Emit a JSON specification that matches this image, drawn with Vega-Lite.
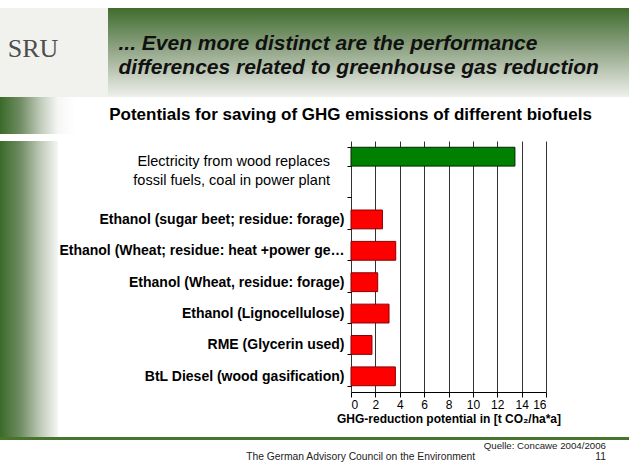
{
  "$schema": "https://vega.github.io/schema/vega-lite/v6.json",
  "padding": {"top": 8, "left": 0, "right": 0, "bottom": 0},
  "background": "white",
  "spacing": 0,
  "config": {"font": "Liberation Sans", "view": {"stroke": null}, "concat": {"spacing": 0}},
  "title": {
    "text": "Quelle: Concawe 2004/2006",
    "subtitle": "The German Advisory Council on the Environment\u00a0\u00a0\u00a0\u00a0\u00a0\u00a0\u00a0\u00a0\u00a0\u00a0\u00a0\u00a0\u00a0\u00a0\u00a0\u00a0\u00a0\u00a0\u00a0\u00a0\u00a0\u00a0\u00a0\u00a0\u00a0\u00a0\u00a0\u00a0\u00a0\u00a0\u00a0\u00a0\u00a0\u00a0\u00a0\u00a0\u00a0\u00a0\u00a0\u00a0\u00a0\u00a011",
    "orient": "bottom",
    "anchor": "end",
    "frame": "bounds",
    "fontSize": 9.7,
    "fontWeight": "normal",
    "color": "#222",
    "subtitleFontSize": 10.3,
    "subtitleColor": "#222",
    "offset": 1,
    "subtitlePadding": 1,
    "dx": -23
  },
  "vconcat": [
    {
      "spacing": 0,
      "hconcat": [
        {
          "width": 108,
          "height": 89,
          "view": {"fill": "#f1f2ee", "stroke": null},
          "data": {"values": [{"logo": "SRU"}]},
          "mark": {"type": "text", "font": "Liberation Serif", "fontSize": 26, "color": "#4d4d4d", "dx": -21, "dy": -4},
          "encoding": {"text": {"field": "logo"}}
        },
        {
          "width": 521,
          "height": 89,
          "data": {"values": [{"panel": "header"}]},
          "layer": [
            {
              "mark": {
                "type": "rect",
                "fill": {
                  "gradient": "linear",
                  "x1": 0, "y1": 0, "x2": 0, "y2": 1,
                  "stops": [
                    {"offset": 0, "color": "#3f6c2d"},
                    {"offset": 0.45, "color": "#8ea383"},
                    {"offset": 1, "color": "#eef0ec"}
                  ]
                }
              },
              "encoding": {}
            },
            {
              "mark": {
                "type": "text",
                "text": ["... Even more distinct are the performance", "differences related to greenhouse gas reduction"],
                "align": "left",
                "baseline": "middle",
                "dx": -250,
                "dy": -9,
                "fontSize": 21,
                "fontStyle": "italic",
                "fontWeight": "bold",
                "color": "#111111",
                "lineHeight": 24
              },
              "encoding": {}
            }
          ]
        }
      ]
    },
    {
      "width": 629,
      "height": 37,
      "data": {"values": [{"panel": "subtitle"}]},
      "layer": [
        {
          "mark": {
            "type": "rect",
            "fill": {
              "gradient": "linear",
              "x1": 0, "y1": 0, "x2": 1, "y2": 0,
              "stops": [
                {"offset": 0, "color": "#3a6a28"},
                {"offset": 0.032, "color": "#6f8c62"},
                {"offset": 0.064, "color": "#bfcab9"},
                {"offset": 0.092, "color": "#f6f7f5"},
                {"offset": 0.12, "color": "#ffffff"},
                {"offset": 1, "color": "#ffffff"}
              ]
            }
          },
          "encoding": {}
        },
        {
          "mark": {
            "type": "text",
            "text": "Potentials for saving of GHG emissions of different biofuels",
            "align": "center",
            "baseline": "middle",
            "dx": 36,
            "dy": -1,
            "fontSize": 17,
            "fontWeight": "bold",
            "color": "#000000"
          },
          "encoding": {}
        }
      ]
    },
    {
      "spacing": 0,
      "hconcat": [
        {
          "width": 58,
          "height": 296,
          "data": {"values": [{"panel": "strip"}]},
          "mark": {
            "type": "rect",
            "fill": {
              "gradient": "linear",
              "x1": 0, "y1": 0, "x2": 1, "y2": 0,
              "stops": [
                {"offset": 0, "color": "#3a6a28"},
                {"offset": 0.35, "color": "#6f8c62"},
                {"offset": 0.7, "color": "#bfcab9"},
                {"offset": 1, "color": "#f6f7f5"}
              ]
            }
          },
          "encoding": {}
        },
        {
          "width": 195,
          "height": 251,
          "data": {
            "values": [
              {"cat": "Electricity from wood replaces fossil fuels, coal in power plant", "v": 13.45, "kind": "electricity"},
              {"cat": "Ethanol (sugar beet; residue: forage)", "v": 2.58, "kind": "biofuel"},
              {"cat": "Ethanol (Wheat; residue: heat +power generation)", "v": 3.67, "kind": "biofuel"},
              {"cat": "Ethanol (Wheat, residue: forage)", "v": 2.19, "kind": "biofuel"},
              {"cat": "Ethanol (Lignocellulose)", "v": 3.12, "kind": "biofuel"},
              {"cat": "RME (Glycerin used)", "v": 1.72, "kind": "biofuel"},
              {"cat": "BtL Diesel (wood gasification)", "v": 3.64, "kind": "biofuel"}
            ]
          },
          "encoding": {
            "y": {
              "field": "cat",
              "type": "nominal",
              "scale": {
                "domain": [
                  "Electricity from wood replaces fossil fuels, coal in power plant",
                  "blank",
                  "Ethanol (sugar beet; residue: forage)",
                  "Ethanol (Wheat; residue: heat +power generation)",
                  "Ethanol (Wheat, residue: forage)",
                  "Ethanol (Lignocellulose)",
                  "RME (Glycerin used)",
                  "BtL Diesel (wood gasification)"
                ],
                "paddingInner": 0.4,
                "paddingOuter": 0.2
              },
              "axis": {
                "title": null,
                "domain": false,
                "ticks": true,
                "tickBand": "extent",
                "tickSize": 4,
                "tickColor": "#000",
                "labelColor": "#000",
                "labelFontSize": 14,
                "labelFontWeight": "bold",
                "labelLimit": 291,
                "labelPadding": 3,
                "labelExpr": "datum.value == 'blank' || datum.value == 'Electricity from wood replaces fossil fuels, coal in power plant' ? '' : datum.value"
              }
            }
          },
          "layer": [
            {
              "mark": {"type": "bar", "strokeWidth": 1},
              "encoding": {
                "x": {
                  "field": "v",
                  "type": "quantitative",
                  "scale": {"domain": [0, 16], "nice": false},
                  "axis": {
                    "values": [0, 2, 4, 6, 8, 10, 12, 14, 16],
                    "labelOverlap": false,
                    "grid": true,
                    "gridColor": "#333",
                    "gridWidth": 1,
                    "domainColor": "#000",
                    "tickColor": "#000",
                    "tickSize": 5,
                    "labelColor": "#000",
                    "labelFontSize": 12,
                    "labelPadding": 2,
                    "title": "GHG-reduction potential in [t CO₂/ha*a]",
                    "titleFontSize": 12,
                    "titleFontWeight": "bold",
                    "titleColor": "#000",
                    "titlePadding": 3
                  }
                },
                "color": {
                  "field": "kind",
                  "type": "nominal",
                  "scale": {"domain": ["electricity", "biofuel"], "range": ["#008000", "#ff0000"]},
                  "legend": null
                },
                "stroke": {
                  "field": "kind",
                  "type": "nominal",
                  "scale": {"domain": ["electricity", "biofuel"], "range": ["#002800", "#8a0000"]},
                  "legend": null
                }
              }
            },
            {
              "transform": [{"filter": "datum.kind == 'electricity'"}],
              "mark": {
                "type": "text",
                "text": ["Electricity from wood  replaces", "fossil fuels, coal in power plant"],
                "align": "right",
                "baseline": "middle",
                "dx": -118.5,
                "dy": 5,
                "fontSize": 14.5,
                "lineHeight": 19,
                "color": "#000"
              },
              "encoding": {}
            }
          ]
        }
      ]
    },
    {
      "width": 629,
      "height": 3,
      "data": {"values": [{"panel": "footer"}]},
      "mark": {"type": "rect", "fill": "#47752e"},
      "encoding": {}
    }
  ]
}
